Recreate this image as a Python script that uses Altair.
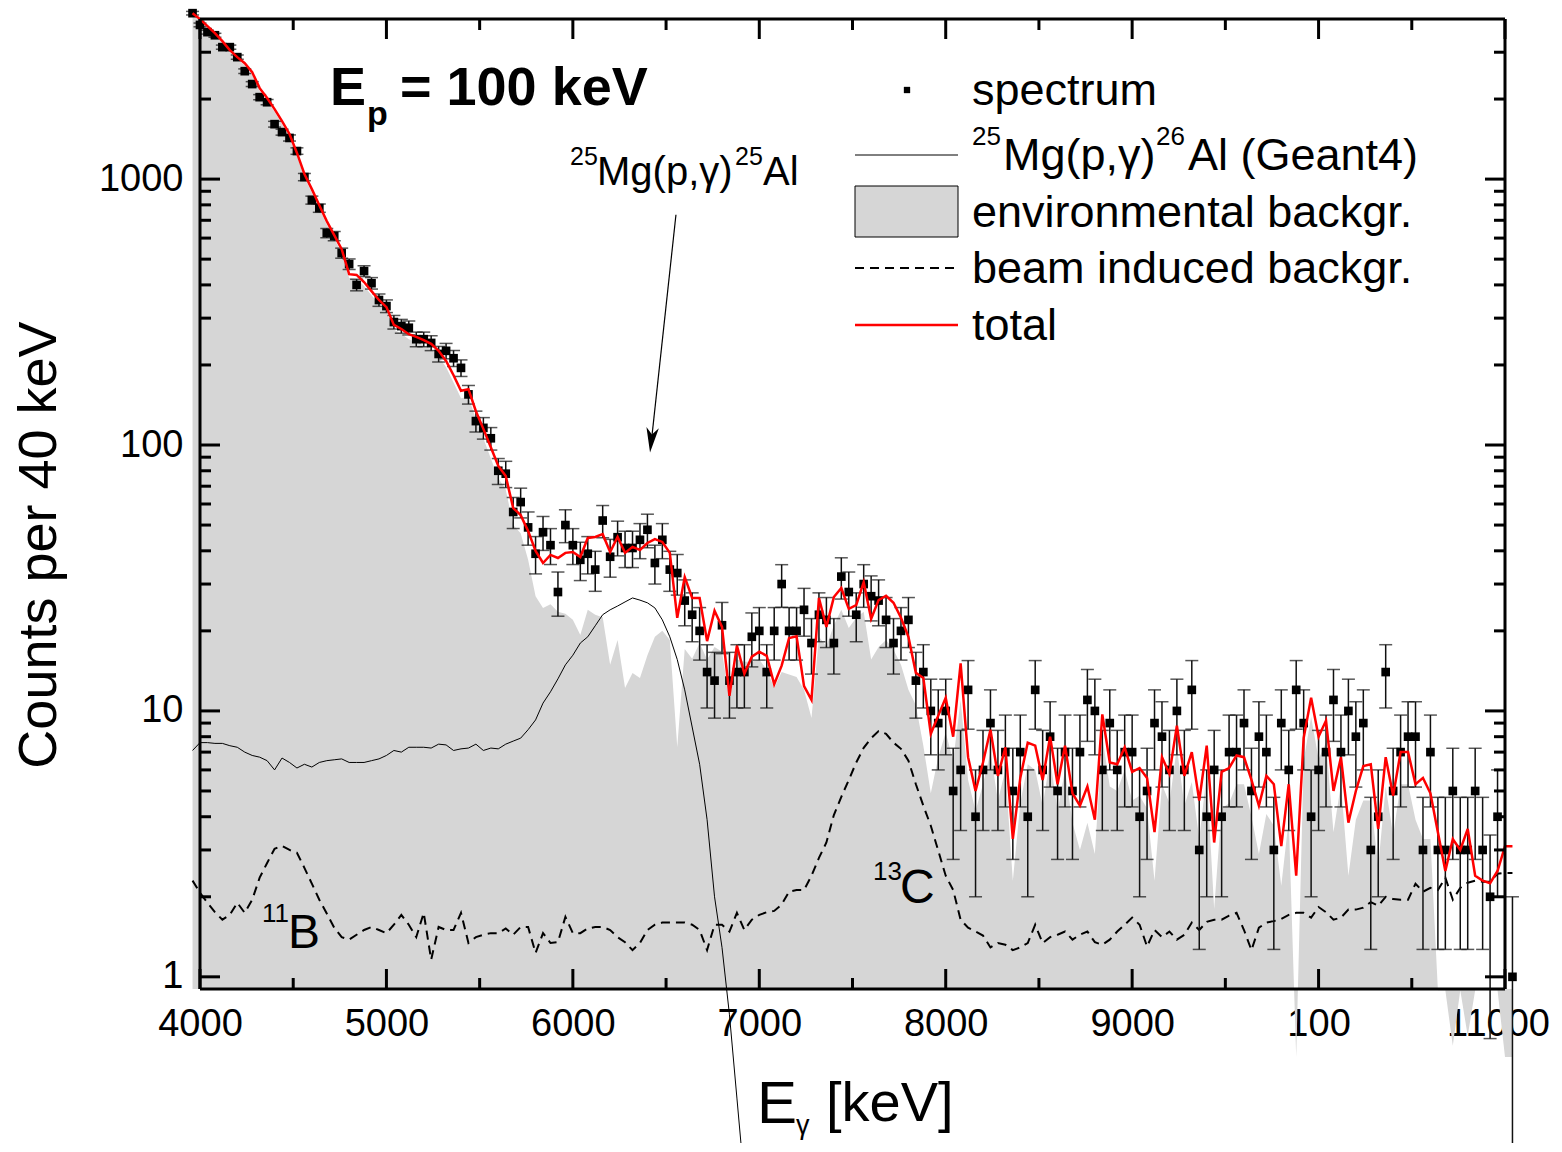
import altair as alt
import pandas as pd

FONT = "Liberation Sans"
W, H = 1305, 970

# 40 keV bins, first bin at 3960 keV (one bin left of the frame)
spectrum = [4207, 3800, 3570, 3475, 3135, 3135, 2875, 2546, 2277, 2033, 1946, 1609, 1502, 1428, 1275, 1018, 834, 778, 627, 611, 527, 479, 400, 451, 406, 351,
            333, 290, 280, 276, 250, 250, 242, 220, 226, 212, 195, 155, 123, 116, 106, 80, 78, 56, 61, 49, 39, 47, 42, 28, 50, 42, 37, 39, 34, 52, 38, 45, 41, 41, 44, 48, 36, 44, 34, 33,
            26, 23, 20, 14, 13, 21, 13, 14, 14, 19, 20, 14, 20, 30, 20, 20, 24, 18, 23, 22, 18, 32, 28, 23, 30, 27, 26, 22, 18, 20, 22, 13, 14, 10, 9, 10,
            5, 6, 12, 4, 6, 9, 6, 7, 5, 7, 4, 12, 6, 8, 5, 7, 5, 7, 11, 10, 6, 9, 6, 7, 7, 4, 5, 9, 8, 6, 10, 6, 12, 3, 4, 6, 4, 7, 7, 9,
            5, 8, 7, 3, 9, 6, 12, 9, 4, 6, 7, 11, 7, 10, 8, 9, 3, 4, 14, 5, 7, 8, 8, 3, 7, 3, 3, 5, 3, 3, 5, 3, 2, 4, None, 1]

total = [4207, 3996, 3758, 3537, 3302, 3054, 2875, 2729, 2523, 2198, 2018, 1834, 1652, 1478, 1254, 1045, 917, 798, 695, 616, 545, 439, 436, 410, 379, 351,
         330, 283, 273, 261, 255, 248, 240, 226, 207, 183, 160, 162, 134, 115, 98, 83.4, 76.4, 57.9, 54.5, 47.5,
         40, 36, 38.6, 37.6, 39.3, 39.6, 37.9, 44.7, 45.1, 46.2, 39.6, 45.1, 39.3, 41.4, 40.3, 42.8, 44.3, 43.2, 39.3, 22.4,
         31.9, 26.6, 26.6, 18.3, 23.8, 20.7, 11.4, 17.6, 13.8, 16, 16.7, 16.1, 12.6, 14.8, 18.8, 19.1, 12.4, 11, 26.6, 20.7,
         26.8, 29, 24.2, 25, 30.5, 22.2, 26.1, 27.1, 25.5, 22.4, 19, 13.9, 13.3, 8.2, 9.6, 11.2,
         8, 15.1, 6.7, 5, 6.4, 8.5, 5.7, 7.3, 3.3, 5.6, 7.6, 7.4, 5.5, 8, 5.3, 7.4, 4.9, 4.4, 5.2, 3.9,
         9.7, 6.4, 6.3, 7.3, 5.9, 6.1, 5.6, 3.5, 6.7, 5.8, 8.8, 5.7, 7, 4.6, 7.4, 3.2, 5.9, 6.1, 6.8, 6.7,
         5.5, 4.4, 5.7, 5.3, 3.1, 5.3, 2.4, 7.9, 11.2, 8, 9.2, 5, 6.7, 3.8, 5, 6.2, 6.3, 3.6, 6.7, 4.8,
         7, 7, 5.3, 5.6, 4.9, 3.5, 2.5, 3.3, 3, 3.6, 2.4, 2.3, 2.25, 2.5, 3.1, 3.1]

environmental = [4150, 3950, 3700, 3480, 3250, 3000, 2820, 2680, 2470, 2150, 1970, 1790, 1610, 1440, 1220, 1015, 890, 775, 675, 597, 528, 425, 422, 396, 366, 339,
                 318, 272, 262, 250, 244, 237, 229, 215, 196, 172, 150, 152, 125, 106, 89, 75, 68, 50,
                 46.6, 37, 27, 24.4, 25.2, 23.6, 23.2, 22, 19.3, 24, 23, 22.5, 14.9, 18.5, 12.2, 13.9, 13.3, 16.2, 19, 20, 18.5, 7.3,
                 17.1, 15.7, 18, 15.6, 17.4, 16.7, 11, 15.6, 15.3, 15.3, 15.6, 14.3, 12.2, 14, 13.7, 13.4, 12, 9.4, 19, 17.5,
                 21, 24, 20.5, 22.4, 23.6, 15.6, 17.4, 18.5, 17, 14.9, 12, 10.5, 7.4, 4.9, 6.7, 8.3,
                 6.5, 11, 5.5, 4.2, 5.3, 7, 4.6, 6, 2.3, 4.5, 6.3, 6, 4.4, 6.6, 4.2, 6, 3.8, 3, 3.8, 2.9,
                 8, 5.2, 5, 6, 4.6, 4.8, 4.3, 2.3, 5.3, 4.5, 7.3, 4.4, 5.4, 3.3, 5.8, 1.8, 4.3, 4.5, 5.3, 5.3,
                 4, 2.9, 4.1, 3.7, 2.2, 3.9, 0.5, 6.5, 9.5, 6.6, 7.6, 3.5, 5.3, 2.4, 3.9, 4.6, 4.6, 2.6, 5.2, 3.4,
                 5.3, 5.3, 3.9, 3.3, 3.3, 0.89, 0.89, 0.55, 0.89, 0.6, 0.89, 0.89, 0.89, 0.89, 0.5, 0.5]

beam_induced = [2.3, 2.07, 1.9, 1.75, 1.64, 1.71, 1.9, 1.74, 1.95, 2.36, 2.68, 3.03, 3.11, 3.0, 2.93, 2.57, 2.24, 1.95, 1.73, 1.53, 1.41, 1.38, 1.44, 1.5, 1.54, 1.5,
                1.46, 1.57, 1.71, 1.57, 1.41, 1.74, 1.16, 1.54, 1.5, 1.5, 1.74, 1.34, 1.41, 1.44, 1.46, 1.46, 1.52, 1.44, 1.54, 1.54,
                1.23, 1.46, 1.34, 1.35, 1.68, 1.46, 1.46, 1.52, 1.54, 1.54, 1.5, 1.41, 1.35, 1.26, 1.34, 1.5, 1.57, 1.6, 1.6, 1.6,
                1.6, 1.57, 1.5, 1.26, 1.57, 1.57, 1.48, 1.74, 1.5, 1.64, 1.71, 1.75, 1.77, 1.87, 2.09, 2.12, 2.12, 2.4, 2.8, 3.2,
                4.06, 4.75, 5.5, 6.4, 7.26, 7.9, 8.4, 8.2, 7.6, 7.2, 6.5, 5.3, 4.4, 3.7, 2.98, 2.4,
                2.12, 1.64, 1.53, 1.48, 1.43, 1.29, 1.34, 1.32, 1.26, 1.29, 1.34, 1.57, 1.34, 1.41, 1.44, 1.48, 1.38, 1.44, 1.48, 1.35,
                1.32, 1.38, 1.48, 1.57, 1.67, 1.57, 1.3, 1.5, 1.41, 1.48, 1.38, 1.44, 1.6, 1.5, 1.61, 1.64, 1.64, 1.7, 1.74, 1.5,
                1.26, 1.53, 1.6, 1.62, 1.65, 1.71, 1.74, 1.74, 1.67, 1.83, 1.75, 1.64, 1.67, 1.79, 1.79, 1.82, 1.91, 1.85, 2.0, 1.96,
                1.95, 1.95, 2.24, 2.09, 2.16, 2.12, 2.36, 1.95, 2.16, 2.26, 2.3, 2.28, 2.28, 2.44, 2.46, 2.46]

geant4 = [7.1, 7.6, 7.6, 7.55, 7.55, 7.4, 7.3, 7.0, 6.8, 6.7, 6.5, 6.0, 6.65, 6.4, 6.1, 6.3, 6.15, 6.4, 6.5, 6.55, 6.6, 6.4, 6.4, 6.4, 6.5, 6.6,
          6.8, 7.1, 7.0, 7.3, 7.3, 7.3, 7.25, 7.5, 7.45, 7.1, 7.2, 7.25, 7.5, 7.1, 7.25, 7.2, 7.5, 7.7, 7.9, 8.5,
          9.25, 10.7, 11.8, 13.2, 14.9, 16.2, 18.0, 19.0, 20.9, 23.0, 24.0, 24.8, 25.7, 26.6, 26.1, 25.5, 24.4, 22.0, 19.0, 15.6,
          12.0, 8.7, 6.3, 3.9, 2.0, 1.29, 0.72, 0.35, 0.17]

x_major = [4000, 5000, 6000, 7000, 8000, 9000, 10000, 11000]
x_minor = [4500, 5500, 6500, 7500, 8500, 9500, 10500]
y_major = [1, 10, 100, 1000]
y_minor = [2, 3, 4, 5, 6, 7, 8, 9, 20, 30, 40, 50, 60, 70, 80, 90,
           200, 300, 400, 500, 600, 700, 800, 900, 2000, 3000]

arrow_E = [6553, 6419]
arrow_counts = [734, 100]
arrow_head_E = [6421]
arrow_head_counts = [104.4]


def grid(n):
    return [3960 + 40 * i for i in range(n)]


spec_df = pd.DataFrame({"E": grid(len(spectrum)), "N": spectrum}).dropna()
tot_df = pd.DataFrame({"E": grid(len(total)), "v": total})
env_df = pd.DataFrame({"E": grid(len(environmental)), "v": environmental})
beam_df = pd.DataFrame({"E": grid(len(beam_induced)), "v": beam_induced})
g4_df = pd.DataFrame({"E": grid(len(geant4)), "v": geant4})
one = pd.DataFrame({"a": [0]})

xs = alt.Scale(domain=[4000, 11000], nice=False, zero=False, padding=0)
ys = alt.Scale(type="log", domain=[0.9, 4000], nice=False, padding=0)

xaxis = alt.Axis(values=x_major, format="d",
                 labelExpr="datum.value == 10000 ? '100' : datum.label",
                 ticks=False, domain=False, grid=False, labelFont=FONT,
                 labelFontSize=38, labelColor="black", labelPadding=16,
                 labelOffset={"condition": {"test": "datum.value == 11000", "value": -7}, "value": 0},
                 labelFlush=False, labelOverlap=False)
yaxis = alt.Axis(values=y_major, format="d", ticks=False, domain=False, grid=False,
                 labelFont=FONT, labelFontSize=38, labelColor="black",
                 labelPadding=17, labelFlush=False, labelOverlap=False)


def X(f):
    return alt.X(f, type="quantitative", scale=xs, axis=xaxis, title=None)


def Y(f):
    return alt.Y(f, type="quantitative", scale=ys, axis=yaxis, title=None, stack=None)


layers = []

# environmental background (grey area, filled down to the bottom of the frame)
layers.append(alt.Chart(env_df).mark_area(color="#d6d6d6", fill="#d6d6d6", opacity=1, clip=False)
              .encode(x=X("E"), y=Y("v"), y2=alt.value(H)))
# Geant4 simulation
layers.append(alt.Chart(g4_df).mark_line(color="black", strokeWidth=1, clip=False)
              .encode(x=X("E"), y=Y("v")))
# beam induced background
layers.append(alt.Chart(beam_df).mark_line(color="black", strokeWidth=2, strokeDash=[9, 6], clip=False)
              .encode(x=X("E"), y=Y("v")))

# spectrum with sqrt(N) error bars
spec_base = alt.Chart(spec_df).transform_calculate(
    lo="max(datum.N - sqrt(datum.N), 0.2)", hi="datum.N + sqrt(datum.N)")
layers.append(spec_base.mark_rule(color="#111111", strokeWidth=1.5, clip=False)
              .encode(x=X("E"), y=Y("lo"), y2="hi:Q"))
layers.append(spec_base.mark_tick(color="#111111", orient="horizontal", size=13, thickness=1.5, clip=False)
              .encode(x=X("E"), y=Y("lo")))
layers.append(spec_base.mark_tick(color="#111111", orient="horizontal", size=13, thickness=1.5, clip=False)
              .encode(x=X("E"), y=Y("hi")))
layers.append(spec_base.mark_square(color="black", size=75, opacity=1, clip=False)
              .encode(x=X("E"), y=Y("N")))

# total
layers.append(alt.Chart(tot_df).mark_line(color="#ff0000", strokeWidth=2.5, clip=False)
              .encode(x=X("E"), y=Y("v")))

# arrow annotation
arrow_df = pd.DataFrame({"E": arrow_E, "v": arrow_counts})
layers.append(alt.Chart(arrow_df).mark_line(color="black", strokeWidth=1.2)
              .encode(x=X("E"), y=Y("v")))
head_df = pd.DataFrame({"E": arrow_head_E, "v": arrow_head_counts})
layers.append(alt.Chart(head_df).mark_point(shape="M0,1L-0.5,-1L0,-0.45L0.5,-1Z", size=625,
                                            filled=True, color="black", opacity=1, angle=6)
              .encode(x=X("E"), y=Y("v")))


# axis ticks (inside) from tick value lists
def xticks(vals, length):
    d = pd.DataFrame({"t": vals})
    return [
        alt.Chart(d).mark_rule(color="black", strokeWidth=3).encode(
            x=X("t"), y=alt.value(H), y2=alt.value(H - length)),
        alt.Chart(d).mark_rule(color="black", strokeWidth=3).encode(
            x=X("t"), y=alt.value(0), y2=alt.value(length)),
    ]


def yticks(vals, length):
    d = pd.DataFrame({"t": vals})
    return [
        alt.Chart(d).mark_rule(color="black", strokeWidth=3).encode(
            y=Y("t"), x=alt.value(0), x2=alt.value(length)),
        alt.Chart(d).mark_rule(color="black", strokeWidth=3).encode(
            y=Y("t"), x=alt.value(W), x2=alt.value(W - length)),
    ]


layers += xticks(x_major, 20) + xticks(x_minor, 11) + yticks(y_major, 20) + yticks(y_minor, 11)

# frame
frame = alt.Chart(one)
layers.append(frame.mark_rule(color="black", strokeWidth=3).encode(x=alt.value(0), x2=alt.value(W), y=alt.value(0)))
layers.append(frame.mark_rule(color="black", strokeWidth=3).encode(x=alt.value(0), x2=alt.value(W), y=alt.value(H)))
layers.append(frame.mark_rule(color="black", strokeWidth=3).encode(x=alt.value(0), y=alt.value(0), y2=alt.value(H)))
layers.append(frame.mark_rule(color="black", strokeWidth=3).encode(x=alt.value(W), y=alt.value(0), y2=alt.value(H)))


def label(txt, x, y, size, weight="normal", angle=0, align="left", baseline="alphabetic"):
    return alt.Chart(one).mark_text(text=txt, font=FONT, fontSize=size, fontWeight=weight,
                                    angle=angle, align=align, baseline=baseline,
                                    color="black").encode(x=alt.value(x), y=alt.value(y))


# axis titles
layers.append(label("Counts per 40 keV", -144, 526, 54, angle=270, align="center"))
layers.append(label("E", 557, 1104, 60))
layers.append(label("γ", 596, 1115, 27))
layers.append(label("[keV]", 626, 1102, 56))

# E_p label
layers.append(label("E", 130, 86, 54, weight="bold"))
layers.append(label("p", 167, 106, 34, weight="bold"))
layers.append(label("= 100 keV", 200, 86, 54, weight="bold"))

# peak annotation
layers.append(label("25", 370, 146, 25))
layers.append(label("Mg(p,γ)", 397, 166, 40))
layers.append(label("25", 535, 146, 25))
layers.append(label("Al", 563, 166, 40))

# line labels
layers.append(label("11", 62, 903, 26))
layers.append(label("B", 88, 929, 48))
layers.append(label("13", 673, 861, 26))
layers.append(label("C", 700, 884, 48))

# legend
layers.append(alt.Chart(one).mark_point(shape="square", filled=True, size=40, color="black", opacity=1)
              .encode(x=alt.value(707), y=alt.value(71)))
layers.append(alt.Chart(one).mark_rule(color="black", strokeWidth=1)
              .encode(x=alt.value(655), x2=alt.value(758), y=alt.value(136)))
layers.append(alt.Chart(one).mark_rect(fill="#d6d6d6", stroke="black", strokeWidth=1)
              .encode(x=alt.value(655), x2=alt.value(758), y=alt.value(167), y2=alt.value(218)))
layers.append(alt.Chart(one).mark_rule(color="black", strokeWidth=2, strokeDash=[9, 6])
              .encode(x=alt.value(655), x2=alt.value(758), y=alt.value(249)))
layers.append(alt.Chart(one).mark_rule(color="#ff0000", strokeWidth=2.5)
              .encode(x=alt.value(655), x2=alt.value(758), y=alt.value(306)))

layers.append(label("spectrum", 772, 86, 45))
layers.append(label("25", 772, 126, 26))
layers.append(label("Mg(p,γ)", 803, 151, 45))
layers.append(label("26", 956, 126, 26))
layers.append(label("Al (Geant4)", 988, 151, 45))
layers.append(label("environmental backgr.", 772, 208, 45))
layers.append(label("beam induced backgr.", 772, 264, 45))
layers.append(label("total", 772, 321, 45))

chart = alt.layer(*layers).properties(
    width=W, height=H,
    autosize=alt.AutoSizeParams(type="none"),
    padding={"left": 192, "top": 11, "right": 49, "bottom": 154},
).configure_view(stroke=None).configure(font=FONT)

chart.save("out.html", embed_options={"renderer": "svg", "actions": False})
